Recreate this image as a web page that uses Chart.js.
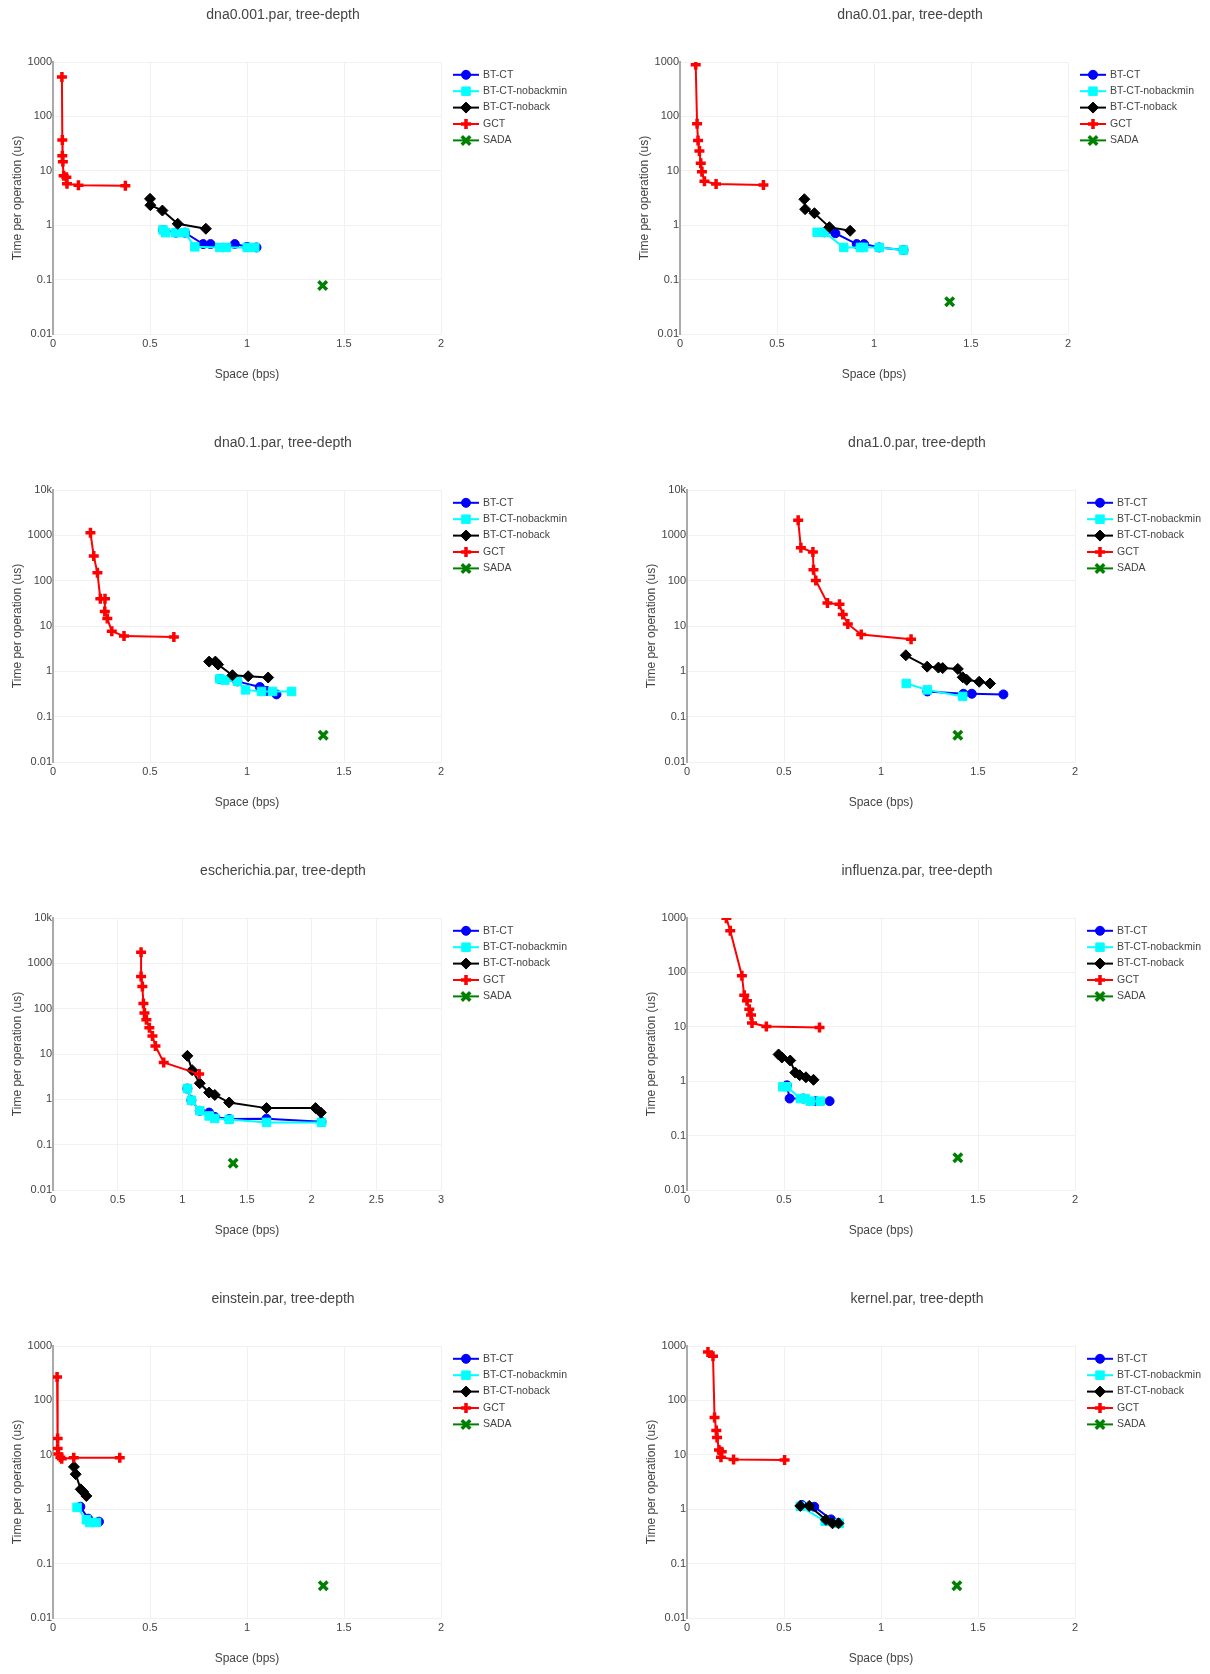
<!DOCTYPE html>
<html>
<head>
<meta charset="utf-8">
<script src="https://cdn.jsdelivr.net/npm/chart.js@4.4.1/dist/chart.umd.min.js"></script>
<style>
  html, body { margin: 0; padding: 0; background: #fff; overflow: hidden; }
  #grid { position: relative; width: 1210px; height: 1674px; }
  .panel { position: absolute; width: 583px; height: 428px; }
</style>
</head>
<body>
<div id="grid"></div>
<script>
// series shared by every panel
const seriesNames = ['BT-CT', 'BT-CT-nobackmin', 'BT-CT-noback', 'GCT', 'SADA'];

const xTicks2 = [0, 0.5, 1, 1.5, 2];
const xTicks3 = [0, 0.5, 1, 1.5, 2, 2.5, 3];
const yTicks1k = [0.01, 0.1, 1, 10, 100, 1000];
const yTicks10k = [0.01, 0.1, 1, 10, 100, 1000, 10000];

// [space (bps), time per op (us)]
const dna0001_btct = [[0.567, 0.82], [0.633, 0.73], [0.68, 0.73], [0.774, 0.45], [0.812, 0.45], [0.937, 0.45], [1.0, 0.40], [1.049, 0.39]];
const dna0001_nobackmin = [[0.567, 0.82], [0.581, 0.73], [0.633, 0.73], [0.679, 0.73], [0.731, 0.40], [0.86, 0.39], [0.894, 0.39], [1.001, 0.39], [1.04, 0.39]];
const dna0001_noback = [[0.5, 3.05], [0.502, 2.33], [0.564, 1.86], [0.643, 1.06], [0.788, 0.86]];
const dna0001_gct = [[0.046, 530], [0.048, 37], [0.048, 19], [0.051, 14.7], [0.055, 8.1], [0.069, 7.6], [0.072, 5.8], [0.131, 5.4], [0.373, 5.3]];
const dna0001_sada = [[1.39, 0.078]];

const dna001_btct = [[0.745, 0.74], [0.801, 0.71], [0.911, 0.45], [0.949, 0.45], [1.027, 0.39], [1.152, 0.35]];
const dna001_nobackmin = [[0.707, 0.74], [0.745, 0.74], [0.844, 0.39], [0.93, 0.39], [0.946, 0.39], [1.027, 0.39], [1.152, 0.35]];
const dna001_noback = [[0.641, 3.0], [0.645, 1.97], [0.693, 1.66], [0.77, 0.92], [0.877, 0.79]];
const dna001_gct = [[0.081, 893], [0.088, 73], [0.093, 36], [0.1, 23], [0.107, 13.8], [0.113, 9.6], [0.126, 6.4], [0.186, 5.7], [0.43, 5.5]];
const dna001_sada = [[1.39, 0.039]];

const dna01_btct = [[0.86, 0.68], [0.95, 0.6], [1.066, 0.45], [1.10, 0.37], [1.152, 0.31]];
const dna01_nobackmin = [[0.86, 0.68], [0.886, 0.64], [0.951, 0.6], [0.992, 0.39], [1.075, 0.36], [1.132, 0.36], [1.23, 0.36]];
const dna01_noback = [[0.805, 1.64], [0.837, 1.64], [0.851, 1.41], [0.925, 0.82], [1.006, 0.78], [1.109, 0.73]];
const dna01_gct = [[0.193, 1140], [0.21, 348], [0.229, 149], [0.244, 40], [0.268, 40], [0.267, 21], [0.28, 14.6], [0.303, 7.7], [0.366, 6.0], [0.623, 5.7]];
const dna01_sada = [[1.393, 0.039]];

const dna10_btct = [[1.239, 0.36], [1.425, 0.32], [1.468, 0.32], [1.631, 0.31]];
const dna10_nobackmin = [[1.13, 0.54], [1.239, 0.39], [1.421, 0.28]];
const dna10_noback = [[1.128, 2.26], [1.238, 1.27], [1.296, 1.21], [1.318, 1.18], [1.396, 1.13], [1.421, 0.74], [1.442, 0.65], [1.506, 0.59], [1.562, 0.54]];
const dna10_gct = [[0.573, 2140], [0.587, 532], [0.649, 427], [0.652, 174], [0.664, 101], [0.724, 32], [0.786, 30], [0.803, 17.9], [0.829, 11.1], [0.898, 6.5], [1.155, 5.1]];
const dna10_sada = [[1.396, 0.039]];

const ecoli_btct = [[1.039, 1.73], [1.07, 0.95], [1.135, 0.56], [1.207, 0.51], [1.251, 0.41], [1.362, 0.37], [1.651, 0.375], [2.076, 0.32]];
const ecoli_nobackmin = [[1.039, 1.73], [1.07, 0.95], [1.135, 0.56], [1.207, 0.43], [1.251, 0.38], [1.362, 0.36], [1.651, 0.31], [2.076, 0.31]];
const ecoli_noback = [[1.039, 9.1], [1.076, 4.4], [1.135, 2.26], [1.207, 1.41], [1.251, 1.25], [1.362, 0.85], [1.651, 0.64], [2.03, 0.64], [2.071, 0.51]];
const ecoli_gct = [[0.681, 1750], [0.681, 514], [0.691, 309], [0.699, 130], [0.707, 80], [0.722, 57], [0.745, 38], [0.769, 25], [0.792, 15], [0.856, 6.5], [1.13, 3.6]];
const ecoli_sada = [[1.393, 0.039]];

const flu_btct = [[0.515, 0.84], [0.529, 0.48], [0.60, 0.48], [0.664, 0.43], [0.735, 0.43]];
const flu_nobackmin = [[0.494, 0.79], [0.515, 0.79], [0.584, 0.48], [0.609, 0.48], [0.635, 0.43], [0.687, 0.43]];
const flu_noback = [[0.472, 3.1], [0.489, 2.73], [0.532, 2.4], [0.558, 1.44], [0.581, 1.29], [0.613, 1.18], [0.652, 1.06]];
const flu_gct = [[0.203, 985], [0.223, 584], [0.283, 87], [0.295, 38], [0.309, 30], [0.321, 21], [0.33, 16.4], [0.335, 11.7], [0.409, 10.1], [0.683, 9.7]];
const flu_sada = [[1.396, 0.039]];

const einstein_btct = [[0.141, 1.11], [0.181, 0.67], [0.237, 0.59]];
const einstein_nobackmin = [[0.124, 1.08], [0.172, 0.64], [0.189, 0.57], [0.224, 0.57]];
const einstein_noback = [[0.108, 6.0], [0.117, 4.4], [0.143, 2.32], [0.155, 2.1], [0.172, 1.75]];
const einstein_gct = [[0.021, 270], [0.024, 20], [0.024, 13.1], [0.028, 10.3], [0.038, 9.0], [0.045, 8.5], [0.107, 8.8], [0.344, 8.8]];
const einstein_sada = [[1.393, 0.039]];

const kernel_btct = [[0.592, 1.2], [0.656, 1.11], [0.742, 0.65], [0.781, 0.56]];
const kernel_nobackmin = [[0.584, 1.13], [0.712, 0.6], [0.785, 0.55]];
const kernel_noback = [[0.584, 1.15], [0.63, 1.15], [0.716, 0.64], [0.75, 0.55], [0.781, 0.55]];
const kernel_gct = [[0.108, 776], [0.134, 647], [0.142, 48.5], [0.151, 28], [0.155, 20.9], [0.165, 12.2], [0.179, 11.4], [0.175, 9.0], [0.24, 8.2], [0.503, 8.0]];
const kernel_sada = [[1.391, 0.039]];

const panels = [
    { title: 'dna0.001.par, tree-depth', xMax: 2, xTicks: xTicks2, yMax: 1000, yTicks: yTicks1k, padLeft: 6,
      series: [dna0001_btct, dna0001_nobackmin, dna0001_noback, dna0001_gct, dna0001_sada] },
    { title: 'dna0.01.par, tree-depth', xMax: 2, xTicks: xTicks2, yMax: 1000, yTicks: yTicks1k, padLeft: 6,
      series: [dna001_btct, dna001_nobackmin, dna001_noback, dna001_gct, dna001_sada] },
    { title: 'dna0.1.par, tree-depth', xMax: 2, xTicks: xTicks2, yMax: 10000, yTicks: yTicks10k, padLeft: 6,
      series: [dna01_btct, dna01_nobackmin, dna01_noback, dna01_gct, dna01_sada] },
    { title: 'dna1.0.par, tree-depth', xMax: 2, xTicks: xTicks2, yMax: 10000, yTicks: yTicks10k, padLeft: 13,
      series: [dna10_btct, dna10_nobackmin, dna10_noback, dna10_gct, dna10_sada] },
    { title: 'escherichia.par, tree-depth', xMax: 3, xTicks: xTicks3, yMax: 10000, yTicks: yTicks10k, padLeft: 6,
      series: [ecoli_btct, ecoli_nobackmin, ecoli_noback, ecoli_gct, ecoli_sada] },
    { title: 'influenza.par, tree-depth', xMax: 2, xTicks: xTicks2, yMax: 1000, yTicks: yTicks1k, padLeft: 13,
      series: [flu_btct, flu_nobackmin, flu_noback, flu_gct, flu_sada] },
    { title: 'einstein.par, tree-depth', xMax: 2, xTicks: xTicks2, yMax: 1000, yTicks: yTicks1k, padLeft: 6,
      series: [einstein_btct, einstein_nobackmin, einstein_noback, einstein_gct, einstein_sada] },
    { title: 'kernel.par, tree-depth', xMax: 2, xTicks: xTicks2, yMax: 1000, yTicks: yTicks1k, padLeft: 13,
      series: [kernel_btct, kernel_nobackmin, kernel_noback, kernel_gct, kernel_sada] }
];

// look of each series (plotly-ish markers)
const seriesStyle = [
    { color: '#0000ff', point: 'circle', radius: 4.5, pw: 1 },
    { color: '#00ffff', point: 'rect', radius: 6, pw: 1 },
    { color: '#000000', point: 'rectRot', radius: 5.5, pw: 1 },
    { color: '#ff0000', point: 'cross', radius: 5, pw: 3.5 },
    { color: '#008000', point: 'crossRot', radius: 6, pw: 3.5 }
];

const FONT = '"Liberation Sans", Arial, sans-serif';
const TEXT = '#444';
const GRID = '#f1f1f1';
const PANEL_W = 583, PANEL_H = 428;
const AREA_W = 388;

// title + legend drawn by hand so the layout stays fixed
const panelDecor = {
    id: 'panelDecor',
    afterDraw(chart, args, opts) {
        const ctx = chart.ctx;
        const area = chart.chartArea;
        ctx.save();
        ctx.fillStyle = TEXT;
        ctx.font = '14px ' + FONT;
        ctx.textAlign = 'center';
        ctx.textBaseline = 'middle';
        ctx.fillText(opts.title, area.left + 230, 15);

        ctx.font = '10.5px ' + FONT;
        ctx.textAlign = 'left';
        chart.data.datasets.forEach((ds, i) => {
            const x = area.right + 12;
            const y = area.top + 12.8 + i * 16.4;
            ctx.strokeStyle = ds.borderColor;
            ctx.lineWidth = 2;
            ctx.beginPath();
            ctx.moveTo(x, y);
            ctx.lineTo(x + 26, y);
            ctx.stroke();
            ctx.fillStyle = ds.pointBackgroundColor;
            ctx.lineWidth = ds.pointBorderWidth;
            Chart.helpers.drawPoint(ctx, {
                pointStyle: ds.pointStyle, radius: ds.pointRadius,
                borderWidth: ds.pointBorderWidth, rotation: 0
            }, x + 13, y);
            ctx.fillStyle = TEXT;
            ctx.fillText(ds.label, x + 30, y);
        });
        ctx.restore();
    }
};

function makeChart(panel, idx) {
    const holder = document.createElement('div');
    holder.className = 'panel';
    holder.style.left = (idx % 2 === 0 ? 0 : 627) + 'px';
    holder.style.top = (Math.floor(idx / 2) * 428) + 'px';
    const canvas = document.createElement('canvas');
    canvas.width = PANEL_W;
    canvas.height = PANEL_H;
    holder.appendChild(canvas);
    document.getElementById('grid').appendChild(holder);

    const datasets = panel.series.map((pts, i) => {
        const st = seriesStyle[i];
        return {
            label: seriesNames[i],
            data: pts.map(p => ({ x: p[0], y: p[1] })),
            showLine: true,
            borderColor: st.color,
            backgroundColor: st.color,
            borderWidth: 2,
            pointStyle: st.point,
            pointRadius: st.radius,
            pointBackgroundColor: st.color,
            pointBorderColor: st.color,
            pointBorderWidth: st.pw,
            order: 5 - i
        };
    });

    const yAxisW = 47;
    const padRight = PANEL_W - (panel.padLeft + yAxisW + AREA_W);

    new Chart(canvas, {
        type: 'scatter',
        data: { datasets: datasets },
        options: {
            responsive: false,
            animation: false,
            events: [],
            layout: { padding: { top: 62, left: panel.padLeft, right: padRight, bottom: 42 } },
            plugins: {
                legend: { display: false },
                title: { display: false },
                tooltip: { enabled: false },
                panelDecor: { title: panel.title }
            },
            scales: {
                x: {
                    type: 'linear',
                    min: 0,
                    max: panel.xMax,
                    afterBuildTicks: s => { s.ticks = panel.xTicks.map(v => ({ value: v })); },
                    afterFit: s => { s.height = 52; },
                    grid: { color: GRID, drawTicks: false },
                    border: { display: false },
                    ticks: {
                        color: TEXT, padding: 3, maxRotation: 0, autoSkip: false,
                        font: { size: 11, family: FONT },
                        callback: v => String(v)
                    },
                    title: {
                        display: true, text: 'Space (bps)', color: TEXT,
                        font: { size: 12, family: FONT }, padding: { top: 4, bottom: 4 }
                    }
                },
                y: {
                    type: 'logarithmic',
                    min: 0.01,
                    max: panel.yMax,
                    afterBuildTicks: s => { s.ticks = panel.yTicks.map(v => ({ value: v })); },
                    afterFit: s => { s.width = yAxisW; },
                    grid: { color: GRID, drawTicks: false },
                    border: { display: true, color: '#aaa', width: 2 },
                    ticks: {
                        color: TEXT, padding: 1, autoSkip: false,
                        font: { size: 11, family: FONT },
                        callback: v => v >= 10000 ? (v / 1000) + 'k' : String(v)
                    },
                    title: {
                        display: true, text: 'Time per operation (us)', color: TEXT,
                        font: { size: 12, family: FONT }, padding: { top: 4, bottom: 4 }
                    }
                }
            }
        },
        plugins: [panelDecor]
    });
}

panels.forEach(makeChart);
</script>
</body>
</html>
